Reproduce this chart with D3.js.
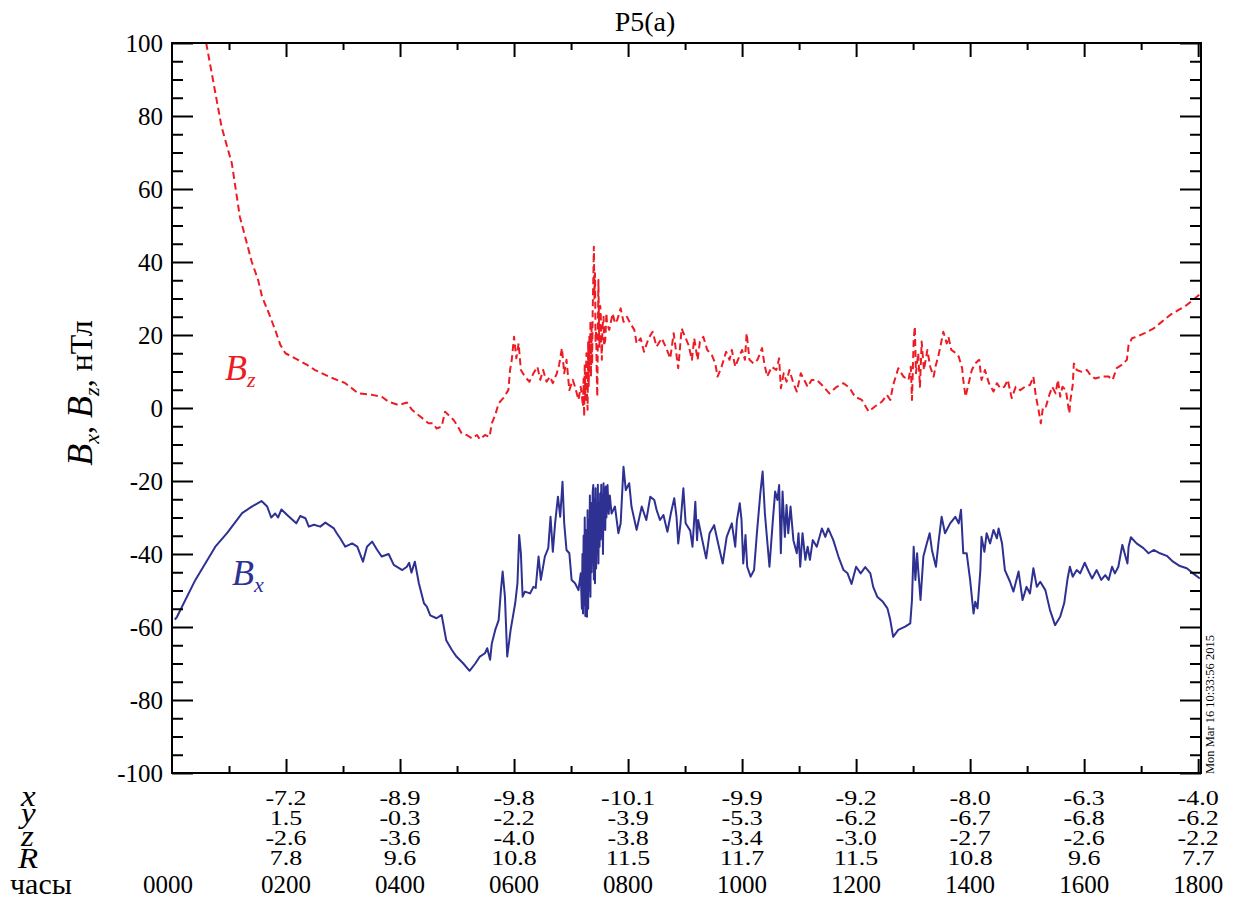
<!DOCTYPE html>
<html>
<head>
<meta charset="utf-8">
<script src="https://cdn.jsdelivr.net/npm/d3@7"></script>
<style>
  html, body { margin: 0; padding: 0; background: #fff; }
  svg { display: block; font-family: 'Liberation Serif'; }
  svg text { font-family: 'Liberation Serif' !important; }
</style>
</head>
<body>
<svg id="chart" width="1233" height="899"></svg>
<script>
// ---------------- DATA ----------------
const hourLabels = ["0000","0200","0400","0600","0800","1000","1200","1400","1600","1800"];
const hourTicks  = [0,2,4,6,8,10,12,14,16,18];
const rowX = ["","-7.2","-8.9","-9.8","-10.1","-9.9","-9.2","-8.0","-6.3","-4.0"];
const rowY = ["","1.5","-0.3","-2.2","-3.9","-5.3","-6.2","-6.7","-6.8","-6.2"];
const rowZ = ["","-2.6","-3.6","-4.0","-3.8","-3.4","-3.0","-2.7","-2.6","-2.2"];
const rowR = ["","7.8","9.6","10.8","11.5","11.7","11.5","10.8","9.6","7.7"];
const yTicks = [100,80,60,40,20,0,-20,-40,-60,-80,-100];

// Bx (nT) vs time (hours)
const bxTime = [0.05,0.088,0.41,0.76,0.965,1.23,1.40,1.57,1.67,1.74,1.81,1.86,1.92,2.02,2.18,2.25,2.34,2.40,2.49,2.60,2.69,2.84,2.89,2.95,3.04,3.16,3.25,3.35,3.42,3.51,3.60,3.68,3.80,3.89,4.04,4.12,4.16,4.20,4.26,4.33,4.42,4.47,4.53,4.64,4.73,4.81,4.91,4.99,5.11,5.22,5.32,5.40,5.49,5.53,5.58,5.61,5.67,5.73,5.77,5.80,5.84,5.88,5.94,6.02,6.06,6.09,6.12,6.15,6.19,6.28,6.34,6.38,6.43,6.47,6.54,6.60,6.64,6.68,6.72,6.77,6.81,6.85,6.88,6.92,6.97,7.01,7.07,7.13,
  7.17,7.19,7.20,7.21,7.22,7.23,7.24,7.25,7.26,7.27,7.28,7.29,7.30,7.31,7.32,7.33,7.34,7.35,7.36,7.37,7.38,7.39,7.40,7.41,7.42,7.43,7.44,7.45,7.46,7.47,7.48,7.49,7.50,7.51,7.52,7.53,7.54,7.55,7.56,7.57,7.58,7.59,7.60,7.61,7.62,7.64,7.66,7.68,
  7.71,7.77,7.83,7.87,7.92,7.96,8.02,8.06,8.15,8.24,8.32,8.39,8.46,8.50,8.56,8.62,8.69,8.75,8.81,8.85,8.88,8.92,8.97,9.01,9.09,9.13,9.18,9.21,9.23,9.29,9.37,9.43,9.51,9.58,9.66,9.73,9.82,9.88,9.91,9.96,9.99,10.02,10.06,10.09,10.15,10.21,10.26,10.32,10.36,10.40,10.48,10.54,10.58,10.62,10.65,10.68,10.71,10.75,10.78,10.81,10.85,10.90,10.96,10.99,11.02,11.06,11.11,11.15,11.19,11.24,11.31,11.40,11.46,11.51,11.60,11.69,11.78,11.85,11.92,12.00,12.08,12.16,12.25,12.30,12.37,12.47,12.55,12.60,12.65,12.74,12.86,12.95,12.98,13.01,13.04,13.07,13.09,13.13,13.18,13.24,13.29,13.33,13.40,13.45,13.50,13.56,13.65,13.74,13.80,13.84,13.88,13.94,14.00,14.06,14.09,14.13,14.18,14.20,14.25,14.29,14.35,14.41,14.47,14.50,14.56,14.61,14.70,14.76,14.85,14.92,14.99,15.05,15.11,15.17,15.23,15.32,15.40,15.49,15.58,15.65,15.71,15.75,15.80,15.87,15.93,16.01,16.08,16.14,16.22,16.30,16.37,16.43,16.49,16.54,16.60,16.67,16.71,16.76,16.78,16.82,16.92,17.04,17.13,17.22,17.33,17.45,17.56,17.68,17.80,17.91,18.03];
const bxValue = [-58,-57.2,-47.1,-38,-34.3,-28.8,-27,-25.5,-27,-30,-28.9,-30,-27.8,-29.3,-31.6,-29.6,-30.2,-32.5,-32,-32.5,-31.4,-33,-34.3,-35.7,-38,-37.1,-38,-42.1,-38,-36.6,-38.9,-40.7,-40,-43,-44.4,-43.5,-42.4,-45.1,-42.1,-48,-53.5,-54.4,-56.8,-57.6,-56.7,-63.6,-66.3,-68.1,-70,-72,-70,-68.1,-67.2,-65.8,-69,-64.5,-60.8,-58.1,-49.9,-44.8,-51.7,-68.1,-60.8,-53.5,-48,-34.8,-39.8,-51.7,-50.3,-50.8,-49,-49.3,-40.7,-47.1,-40.7,-38.4,-29.8,-39.4,-31.6,-24.3,-29.8,-20.2,-31.6,-38.9,-39.8,-47.1,-48,-49.9,
  -45.3,-55,-40,-56.3,-35,-54,-30,-57,-33.4,-52,-57.2,-28,-55,-30.7,-50,-24,-51.7,-26,-45,-35.7,-23,-21.1,-47,-25,-48,-22,-44,-28.9,-40,-21,-42.6,-26,-38,-23.4,-36,-21,-35.3,-24,-40,-20.6,-33,-22,-33.4,-21.5,-30,-21.1,-29,-24,
  -28.9,-27,-34.3,-31.6,-16.1,-22.5,-20.6,-27,-33.4,-27,-30.7,-24.3,-25.2,-27.9,-30.7,-29.3,-33.9,-28.9,-24.7,-29.8,-37.1,-31.6,-22,-31.6,-33.6,-38,-25.7,-36.2,-30.7,-35.3,-41.2,-34.3,-32.1,-37.1,-42.6,-35.3,-31.6,-38,-30.7,-26.1,-30.7,-42.6,-34.8,-43.5,-46.2,-44.4,-34.3,-23.4,-17.4,-28.9,-43.5,-30.7,-22.9,-25.2,-21.1,-39.8,-22.9,-35.3,-26.6,-34.3,-27,-36.2,-39.8,-34.3,-43.5,-34.3,-41.6,-38,-41.6,-36.2,-38,-33,-35.3,-33,-36.2,-40.7,-44.4,-45.3,-48.2,-43.5,-45.3,-43.6,-45.3,-49,-51.7,-53.1,-54.9,-58.1,-62.7,-60.8,-59.9,-59,-52.6,-38,-47.1,-39.8,-44.4,-52.6,-40.7,-37.1,-34.3,-38.9,-43.5,-36.2,-29.8,-34.3,-31.6,-29.8,-31.6,-27.9,-39.8,-39.8,-47.1,-56.3,-53.1,-54.9,-44.4,-35.3,-39.4,-34.3,-37.1,-33.4,-35.7,-33,-37.1,-44.4,-47.6,-50.3,-44.8,-52.6,-49,-50.8,-43.9,-49,-47.6,-49.9,-55.3,-59.5,-57.2,-53.5,-46.7,-43.5,-46.2,-44.4,-45.3,-42.4,-44.8,-46.7,-44.4,-47.1,-45.8,-47.1,-43.5,-45.3,-43.5,-37.5,-39.8,-42.6,-38,-35.4,-37.1,-38.4,-39.8,-38.9,-39.8,-40.5,-42.1,-43.3,-43.9,-45.3,-46.7];

// Bz (nT) vs time (hours)
const bzTime = [0.50,0.60,0.87,1.05,1.19,1.40,1.51,1.58,1.70,1.81,1.90,1.99,2.16,2.37,2.51,2.75,3.04,3.27,3.51,3.68,3.80,3.98,4.12,4.21,4.36,4.50,4.58,4.64,4.73,4.79,4.85,4.94,5.00,5.08,5.17,5.26,5.35,5.40,5.49,5.57,5.61,5.67,5.73,5.81,5.90,5.93,5.96,6.00,6.04,6.08,6.12,6.19,6.27,6.34,6.41,6.46,6.51,6.57,6.63,6.68,6.75,6.79,6.84,6.88,6.92,6.97,7.03,7.07,7.13,7.17,
  7.21,7.22,7.23,7.24,7.25,7.26,7.27,7.28,7.29,7.30,7.31,7.32,7.33,7.34,7.35,7.36,7.37,7.38,7.39,7.40,7.41,7.42,7.43,7.44,7.45,7.46,7.47,7.48,7.49,7.50,7.51,7.52,7.53,7.54,7.55,7.57,7.58,7.60,7.62,7.63,
  7.67,7.73,7.77,7.81,7.87,7.92,7.98,8.04,8.11,8.15,8.22,8.28,8.36,8.43,8.50,8.59,8.67,8.74,8.80,8.88,8.94,9.00,9.06,9.12,9.16,9.22,9.26,9.32,9.39,9.47,9.53,9.57,9.64,9.72,9.78,9.82,9.88,9.95,10.00,10.05,10.08,10.13,10.20,10.27,10.35,10.39,10.44,10.52,10.60,10.65,10.68,10.73,10.78,10.83,10.90,10.96,11.03,11.09,11.15,11.22,11.31,11.40,11.53,11.66,11.78,11.89,11.98,12.10,12.22,12.33,12.45,12.54,12.60,12.65,12.74,12.83,12.92,12.96,12.98,13.01,13.03,13.05,13.09,13.12,13.15,13.19,13.25,13.30,13.36,13.40,13.44,13.49,13.53,13.59,13.62,13.67,13.72,13.80,13.86,13.88,13.92,13.96,14.03,14.09,14.16,14.20,14.26,14.33,14.41,14.47,14.53,14.60,14.66,14.73,14.80,14.88,14.96,15.05,15.11,15.15,15.20,15.24,15.28,15.33,15.39,15.44,15.50,15.54,15.58,15.62,15.68,15.74,15.76,15.80,15.82,15.87,15.96,16.05,16.11,16.19,16.31,16.43,16.50,16.57,16.66,16.75,16.78,16.84,16.95,17.07,17.22,17.36,17.51,17.65,17.80,17.91,18.03];
const bzValue = [112,100,77,67,52.4,40,35.1,30.5,25.9,21.4,17.3,15,13.6,11.8,10.4,8.6,6.8,4,3.6,3.1,1.7,0.8,1.5,-0.5,-2.4,-4.2,-4.2,-5.6,-5.1,-1,-1.9,-3.3,-4.7,-6.9,-7.4,-8.3,-7.4,-8.6,-7.4,-7.9,-4.2,-1.9,1.3,2.7,4.9,10.4,13.2,19.5,13.6,17.7,10.4,8.6,7.2,9.5,11.3,7.7,10.4,7.2,8.6,6.8,9.5,11.8,16.4,9.5,13.2,4.9,7.7,5.8,2.2,5.8,
  0.4,8,-2.4,12,2,7.7,15,4,-0.5,18,6,19.5,10,24,8.6,22,12,26.8,35,44.2,30,36.9,18,21.4,10,3.1,20,35.1,22,16.8,28,26.8,18,13.2,22,25,17,18.6,26,23.2,
  21.4,25.9,23.2,24.1,27.3,23.6,25,23.2,21.4,17.7,19.1,15.4,19.1,20.9,16.8,19.1,16.4,13.6,20.5,10.9,21.8,19.5,17.3,13.2,19.1,13.2,18.2,19.5,15.9,14.5,12.2,8.6,11.3,15.4,13.2,15.9,11.3,14.1,15.9,13.2,20.5,13.2,12.2,13.2,16.4,12.2,8.6,11.3,10.4,13.6,5.4,9.5,7.2,10.4,6.8,4.5,9.5,7.7,5.8,7.7,7.7,6.3,4,5.8,6.8,5.4,3.1,2.2,-1,0.4,1.7,3.6,2.2,6.3,10.9,8.6,7.7,11.3,2.2,18.6,22.3,9.5,15,5.8,18.2,10.4,15.9,11.3,8.6,11.8,14.1,17.7,20.9,17.7,19.5,15.9,15.4,14.1,10.9,7.7,3.1,5.8,10.4,12.2,13.2,7.7,10.4,6.8,4.5,6.8,5.4,5.8,7.7,2.7,5.8,4.9,5.8,6.3,8.6,3.6,-0.5,-4.2,0.4,0.4,3.6,5.8,4,7.7,3.1,5.8,4.9,-1.5,2.2,6.3,12.2,10.4,9.9,10.4,9,8.1,8.6,8.6,7.7,10.9,11.8,13.2,17.3,19.1,19.7,20.6,21.8,23.6,25.5,26.8,28.2,29.6,31.2];

// ---------------- DRAW ----------------
const FONT = "Liberation Serif";
const svg = d3.select("#chart");
const W = 1233, H = 899;
svg.append("rect").attr("width", W).attr("height", H).attr("fill", "#fff");

const L = 172, R = 1201, T = 43, B = 773;
const x = d3.scaleLinear().domain([0, 18.05]).range([L, R]);
const y = d3.scaleLinear().domain([-100, 100]).range([B, T]);

const red = "#ED1C24", blue = "#2E3192";

svg.append("defs").append("clipPath").attr("id", "clip")
  .append("rect").attr("x", L).attr("y", T).attr("width", R - L).attr("height", B - T);

const bxData = bxTime.map((t, i) => [t, bxValue[i]]);
const bzData = bzTime.map((t, i) => [t, bzValue[i]]);
const line = d3.line().x(d => x(d[0])).y(d => y(d[1]));

const plot = svg.append("g").attr("clip-path", "url(#clip)");
plot.append("path").datum(bzData).attr("d", line)
  .attr("fill", "none").attr("stroke", red).attr("stroke-width", 2)
  .attr("stroke-dasharray", "7,4").attr("stroke-linejoin", "round");
plot.append("path").datum(bxData).attr("d", line)
  .attr("fill", "none").attr("stroke", blue).attr("stroke-width", 2)
  .attr("stroke-linejoin", "round");

// Axes
const majorY = yTicks;
const minorY = d3.range(-95, 100, 5).filter(v => v % 20 !== 0);
const majorX = d3.range(2, 19, 2);
const minorX = d3.range(1, 18, 2);

function styleAxis(g) {
  g.attr("font-family", FONT);
  g.select(".domain").remove();
  g.selectAll(".tick line").attr("stroke", "#000").attr("stroke-width", 2);
}

svg.append("g").attr("transform", `translate(${L},0)`)
  .call(d3.axisLeft(y).tickValues(majorY).tickSize(-21).tickSizeOuter(0).tickPadding(9).tickFormat(d => String(d)))
  .call(styleAxis)
  .call(g => g.selectAll("text").attr("font-size", 25).attr("font-family", FONT).style("font-family", FONT).attr("fill", "#000"));
svg.append("g").attr("transform", `translate(${L},0)`)
  .call(d3.axisLeft(y).tickValues(minorY).tickSize(-11).tickFormat(""))
  .call(styleAxis);
svg.append("g").attr("transform", `translate(${R},0)`)
  .call(d3.axisRight(y).tickValues(majorY).tickSize(-21).tickFormat(""))
  .call(styleAxis);
svg.append("g").attr("transform", `translate(${R},0)`)
  .call(d3.axisRight(y).tickValues(minorY).tickSize(-11).tickFormat(""))
  .call(styleAxis);
svg.append("g").attr("transform", `translate(0,${B})`)
  .call(d3.axisBottom(x).tickValues(majorX).tickSize(-14).tickFormat(""))
  .call(styleAxis);
svg.append("g").attr("transform", `translate(0,${B})`)
  .call(d3.axisBottom(x).tickValues(minorX).tickSize(-7).tickFormat(""))
  .call(styleAxis);
svg.append("g").attr("transform", `translate(0,${T})`)
  .call(d3.axisTop(x).tickValues(majorX).tickSize(-14).tickFormat(""))
  .call(styleAxis);
svg.append("g").attr("transform", `translate(0,${T})`)
  .call(d3.axisTop(x).tickValues(minorX).tickSize(-7).tickFormat(""))
  .call(styleAxis);

svg.append("rect").attr("x", L).attr("y", T).attr("width", R - L).attr("height", B - T)
  .attr("fill", "none").attr("stroke", "#000").attr("stroke-width", 2);

function txt(parent) {
  return parent.append("text").attr("font-family", FONT).style("font-family", FONT).attr("fill", "#000");
}

// Title
txt(svg).attr("x", 645).attr("y", 31).attr("text-anchor", "middle")
  .attr("font-size", 28).text("P5(a)");

// Y axis title
const yt = txt(svg).attr("transform", "translate(92,393) rotate(-90)")
  .attr("text-anchor", "middle").attr("font-size", 32);
yt.append("tspan").attr("font-style", "italic").attr("font-size", 36).text("B");
yt.append("tspan").attr("font-style", "italic").attr("font-size", 22).attr("dy", 7).text("x");
yt.append("tspan").attr("dy", -7).text(", ");
yt.append("tspan").attr("font-style", "italic").attr("font-size", 36).text("B");
yt.append("tspan").attr("font-style", "italic").attr("font-size", 22).attr("dy", 7).text("z");
yt.append("tspan").attr("dy", -7).text(", нТл");

// Series labels
function seriesLabel(px, py, sub, color) {
  const t = txt(svg).attr("x", px).attr("y", py).attr("fill", color)
    .attr("font-style", "italic").attr("font-size", 36);
  t.append("tspan").attr("fill", color).text("B");
  t.append("tspan").attr("fill", color).attr("font-size", 22).attr("dy", 7).text(sub);
}
seriesLabel(225, 380, "z", red);
seriesLabel(232, 585, "x", blue);

// Timestamp
txt(svg).attr("transform", "translate(1214,774) rotate(-90)")
  .attr("font-size", 12.5).text("Mon Mar 16 10:33:56 2015");

// Bottom table
const rows = [rowX, rowY, rowZ, rowR];
const rowBase = [805, 825, 845, 865];
rows.forEach((row, ri) => {
  row.forEach((lab, i) => {
    if (!lab) return;
    txt(svg)
      .attr("transform", `translate(${x(hourTicks[i])},${rowBase[ri]}) scale(1,0.78)`)
      .attr("text-anchor", "middle").attr("font-size", 26).text(lab);
  });
});
hourLabels.forEach((lab, i) => {
  txt(svg).attr("x", x(hourTicks[i]) - (i === 0 ? 4 : 0)).attr("y", 893)
    .attr("text-anchor", "middle").attr("font-size", 25).text(lab);
});
const rowLabels = ["x", "y", "z", "R"];
const rowLabelBase = [806, 823, 846, 868];
const rowLabelX = [21, 21, 21, 18];
rowLabels.forEach((lab, i) => {
  txt(svg).attr("transform", `translate(${rowLabelX[i]},${rowLabelBase[i]}) scale(1,0.9)`)
    .attr("font-style", "italic").attr("font-size", 33).text(lab);
});
txt(svg).attr("x", 10).attr("y", 894).attr("font-size", 30).text("часы");
</script>
</body>
</html>
